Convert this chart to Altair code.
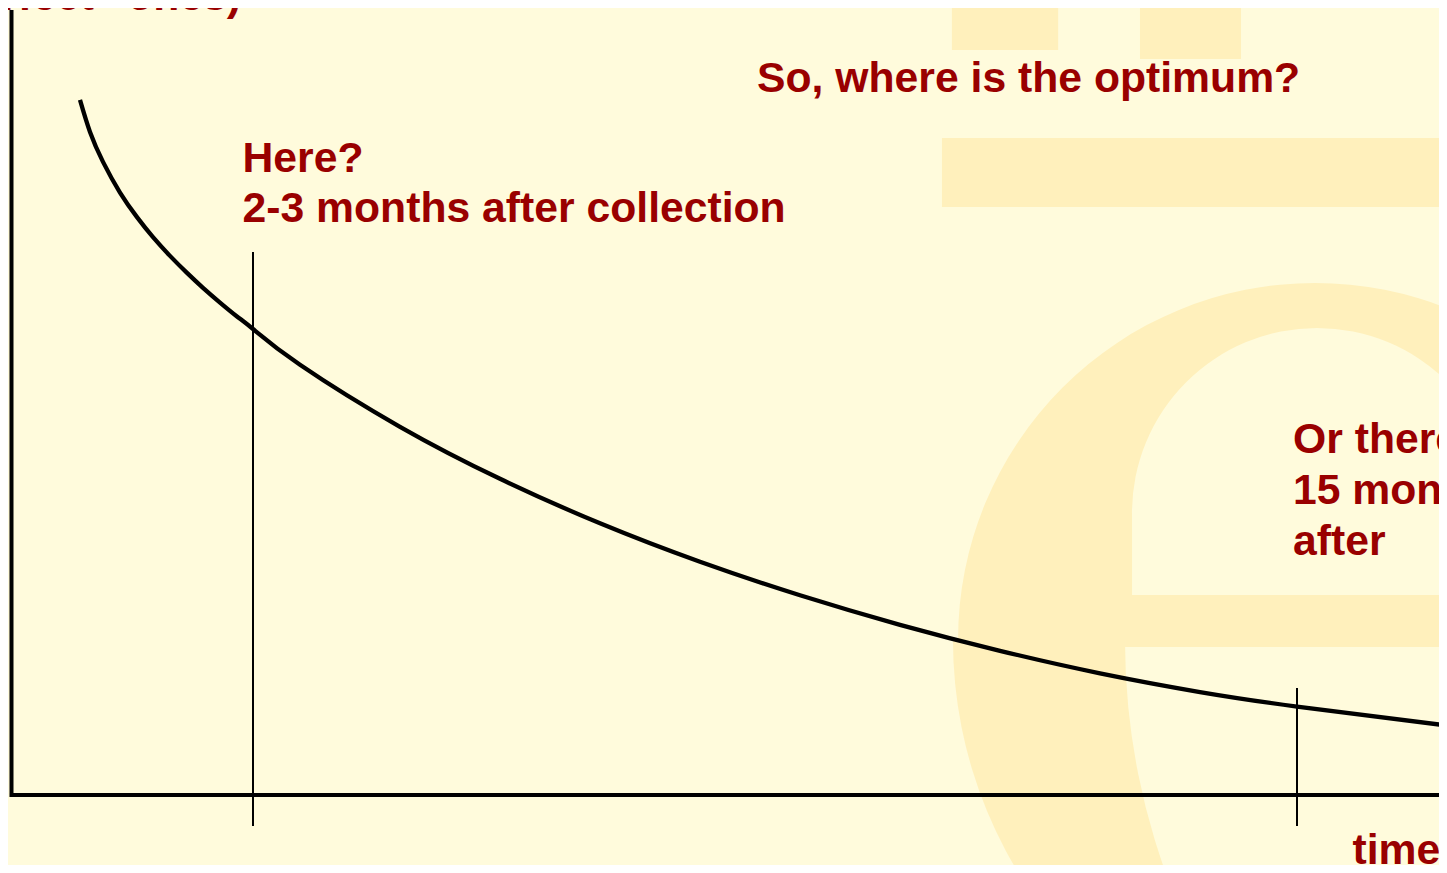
import altair as alt
import pandas as pd

BG = "#FFFBDC"
WM = "#FFF0BC"
RED = "#990000"
FONT = "Liberation Sans"

# ---- data: quality of seeds vs time since collection ----
months = [0.4286, 0.5484, 0.7040, 0.9076, 1.1111, 1.3027, 1.5062, 1.7098,
          1.9013, 2.1049, 2.3084, 2.5000, 3.0627, 4.2601, 5.4574, 6.6547,
          7.8520, 9.0494, 10.2467, 11.4440, 12.6413, 13.8386, 15.0000, 16.7478]
quality = [88.54, 84.46, 80.65, 76.75, 73.61, 71.06, 68.68, 66.51, 64.61,
           62.73, 60.96, 59.36, 54.80, 46.90, 40.28, 34.61, 29.71, 25.44,
           21.68, 18.37, 15.50, 13.12, 11.27, 8.92]

marker_months = [2.5, 15.0]
marker_top = [69.17, 13.63]
marker_bottom = [-3.95, -3.95]

label_text = ["So, where is the optimum?", "Here?", "2-3 months after collection",
              "Or there?", "15 months", "after", "time"]
label_month = [8.535, 2.3745, 2.3745, 14.952, 14.952, 14.952, 15.665]
label_quality = [89.59, 79.40, 73.03, 43.53, 37.07, 30.57, -8.85]

axis_label = ["(number of “perfect” ones)"]
axis_label_month = [2.356]
axis_label_quality = [100.0]

X_DOMAIN = [-0.4334, 16.7002]
Y_DOMAIN = [-8.917, 100.255]

xs = alt.Scale(domain=X_DOMAIN, nice=False, zero=False)
ys = alt.Scale(domain=Y_DOMAIN, nice=False, zero=False)


def X(f="t"):
    return alt.X(f"{f}:Q", scale=xs, axis=None)


def Y(f="q"):
    return alt.Y(f"{f}:Q", scale=ys, axis=None)


# ---- decorative watermark letter (in data units) ----
def disc(t, q, r, th0, th1, color):
    return alt.Chart(pd.DataFrame({"t": [t], "q": [q]})).mark_arc(
        radius=r, radius2=0, theta=th0, theta2=th1, color=color, clip=True
    ).encode(x=X(), y=Y())


def box(t1, t2, q1, q2, color):
    return alt.Chart(pd.DataFrame({"t": [t1], "t2": [t2], "q": [q1], "q2": [q2]})).mark_rect(
        color=color, clip=True
    ).encode(x=X(), x2="t2:Q", y=Y(), y2="q2:Q")


PI = 3.14159265
watermark = [
    disc(15.216, 19.75, 357, 0, 2 * PI, WM),
    disc(16.233, 19.75, 447, PI, 1.5 * PI, WM),
    disc(21.154, 19.75, 686, 0.5 * PI, 1.5 * PI, BG),
    disc(15.239, 35.92, 185, 0, 2 * PI, BG),
    box(13.025, 17.67, 35.92, 25.22, BG),
    box(12.941, 17.67, 25.48, 18.85, WM),
    box(10.868, 12.140, 102.55, 94.90, WM),
    box(13.120, 14.330, 102.55, 93.76, WM),
    box(10.749, 17.67, 83.69, 74.90, WM),
]

# ---- axes drawn as thick black lines ----
yaxis = alt.Chart(pd.DataFrame({"t": [-0.3915], "q": [100.0], "q2": [-0.25]})).mark_rule(
    color="black", strokeWidth=4, clip=True
).encode(x=X(), y=Y(), y2="q2:Q")

xaxis = alt.Chart(pd.DataFrame({"t": [-0.41], "t2": [17.5], "q": [0.0]})).mark_rule(
    color="black", strokeWidth=4, clip=True
).encode(x=X(), x2="t2:Q", y=Y())

curve = alt.Chart(pd.DataFrame({"t": months, "q": quality})).mark_line(
    color="black", strokeWidth=4.3, interpolate="natural", clip=True
).encode(x=X(), y=Y())

markers = alt.Chart(pd.DataFrame({"t": marker_months, "q": marker_top, "q2": marker_bottom})).mark_rule(
    color="black", strokeWidth=2, clip=True
).encode(x=X(), y=Y(), y2="q2:Q")

labels = alt.Chart(pd.DataFrame({"t": label_month, "q": label_quality, "txt": label_text})).mark_text(
    align="left", baseline="alphabetic", font=FONT, fontWeight="bold",
    fontSize=42.7, color=RED, clip=True
).encode(x=X(), y=Y(), text="txt:N")

ylabel = alt.Chart(pd.DataFrame({"t": axis_label_month, "q": axis_label_quality, "txt": axis_label})).mark_text(
    align="right", baseline="alphabetic", font=FONT, fontWeight="bold",
    fontSize=42.7, color=RED, clip=True
).encode(x=X(), y=Y(), text="txt:N")

chart = alt.layer(*watermark, yaxis, xaxis, curve, markers, labels, ylabel).properties(
    width=1431, height=857, padding=0, background=BG,
    autosize=alt.AutoSizeParams(type="none"),
).configure_view(stroke=None)

chart.save("out.html", embed_options={"renderer": "svg", "actions": False})
